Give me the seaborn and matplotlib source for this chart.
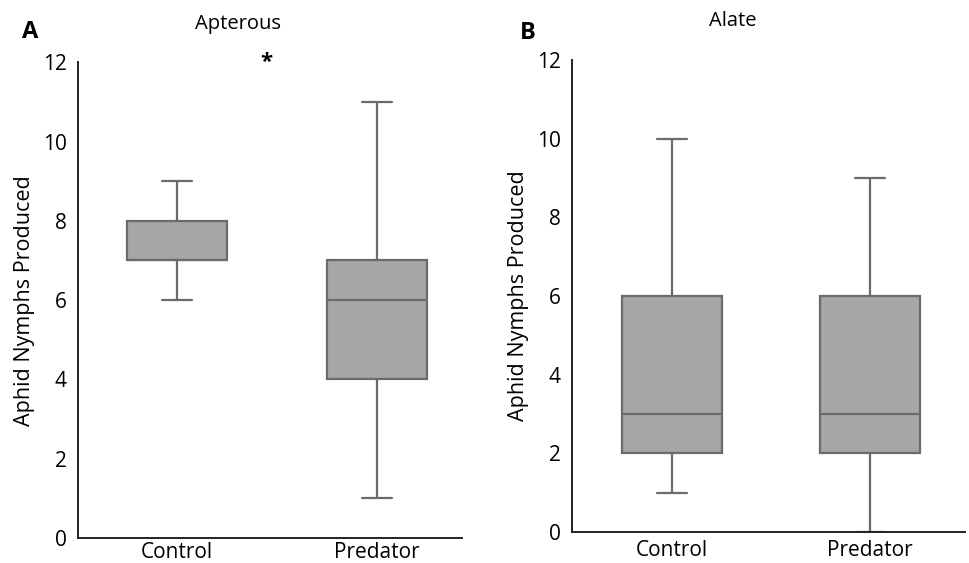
import matplotlib.pyplot as plt
import seaborn as sns
import pandas as pd

# raw counts chosen so the quartiles/whiskers match the figure
groups = ["Control", "Predator"]
apterous_control = [6, 7, 7, 7, 8, 8, 9]
apterous_predator = [1, 4, 4, 6, 6, 7, 7, 11]
alate_control = [1, 2, 2, 3, 3, 6, 6, 10]
alate_predator = [0, 2, 2, 3, 3, 6, 6, 9]
yticks = [0, 2, 4, 6, 8, 10, 12]

sns.set_style("white")
plt.rcParams["font.family"] = ["Open Sans", "DejaVu Sans"]
plt.rcParams["text.color"] = "black"
plt.rcParams["axes.labelcolor"] = "black"
plt.rcParams["xtick.color"] = "black"
plt.rcParams["ytick.color"] = "black"


def makeFrame(control, predator):
    df = pd.DataFrame(
        {
            "group": ["Control"] * len(control) + ["Predator"] * len(predator),
            "value": control + predator,
        }
    )
    return df


def drawPanel(ax, df, xlim, boxWidth, xPad):
    sns.boxplot(
        data=df,
        x="group",
        y="value",
        order=groups,
        ax=ax,
        width=boxWidth,
        color="#a6a6a6",
        linecolor="#6b6b6b",
        linewidth=1.6,
        saturation=1,
        showfliers=False,
        capwidths=0.15,
    )
    ax.set_ylim(0, 12)
    ax.set_yticks(yticks)
    ax.set_xlim(*xlim)
    ax.set_xlabel("")
    ax.set_ylabel("Aphid Nymphs Produced", fontsize=15.5, labelpad=6)
    ax.tick_params(axis="x", length=0, labelsize=15, pad=xPad)
    ax.tick_params(axis="y", length=0, labelsize=15, pad=8)
    for side in ["top", "right"]:
        ax.spines[side].set_visible(False)
    for side in ["left", "bottom"]:
        ax.spines[side].set_color("#222222")
        ax.spines[side].set_linewidth(1.4)


fig = plt.figure(figsize=(9.7, 5.63), dpi=100)
axA = fig.add_axes([0.0804, 0.0444, 0.396, 0.845])
axB = fig.add_axes([0.5897, 0.0551, 0.405, 0.838])

drawPanel(axA, makeFrame(apterous_control, apterous_predator), (-0.495, 1.425), 0.5, 3)
drawPanel(axB, makeFrame(alate_control, alate_predator), (-0.505, 1.48), 0.505, 6)

fig.text(238 / 970, 1 - 24 / 563, "Apterous", ha="center", va="center", fontsize=14.5)
fig.text(733 / 970, 1 - 21 / 563, "Alate", ha="center", va="center", fontsize=14.5)
fig.text(22 / 970, 1 - 32 / 563, "A", ha="left", va="center", fontsize=17, fontweight="bold")
fig.text(520 / 970, 1 - 33 / 563, "B", ha="left", va="center", fontsize=17, fontweight="bold")
fig.text(266 / 970, 1 - 62 / 563, "*", ha="center", va="center", fontsize=16, fontweight="bold")

fig.savefig("out.png", dpi=100)
